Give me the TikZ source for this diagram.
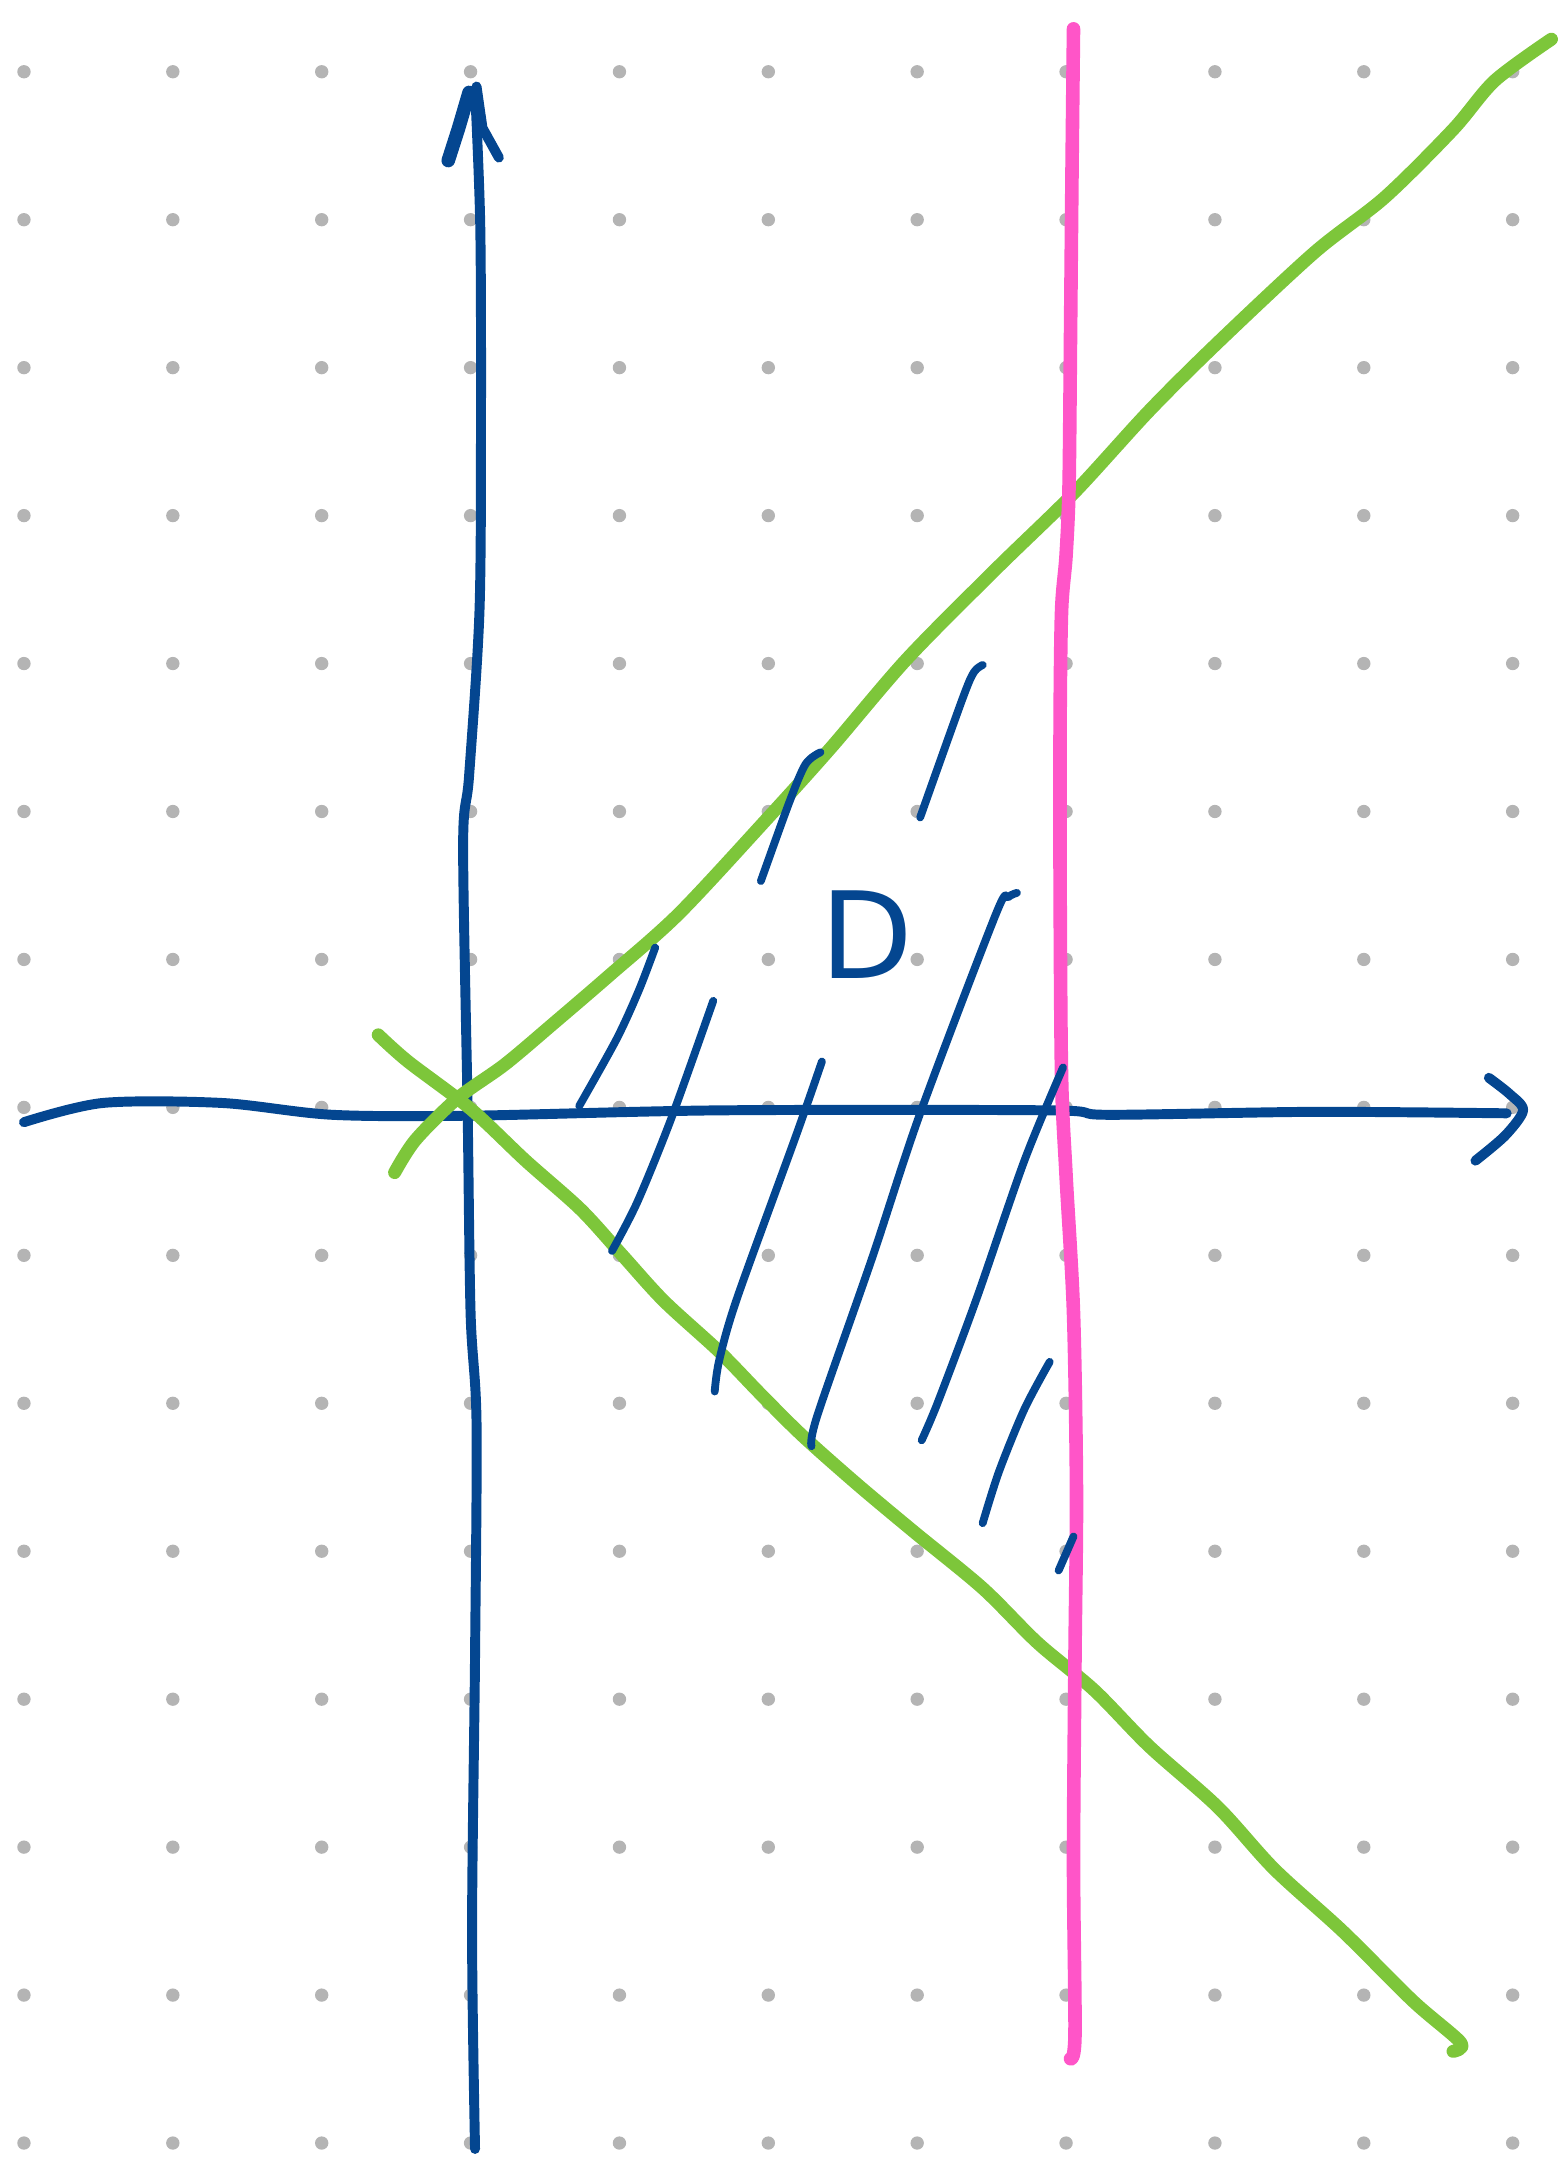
\documentclass[tikz,border=0pt]{standalone}
\usepackage{fontspec}
\usepackage{tikz}
\newfontfamily\labelfont{DejaVu Sans}
\definecolor{inkblue}{HTML}{044690}
\definecolor{inkgreen}{HTML}{7DC63A}
\definecolor{inkpink}{HTML}{FF55C8}
\definecolor{dotgray}{HTML}{B4B4B4}
\tikzset{
  griddot/.style={fill=dotgray},
  axisline/.style={
    draw=inkblue,
    line width=1.9pt,
    line cap=round,
    line join=round
  },
  boundline/.style={
    draw=inkgreen,
    line width=2.5pt,
    line cap=round,
    line join=round
  },
  limitline/.style={
    draw=inkpink,
    line width=2.6pt,
    line cap=round,
    line join=round
  },
  hatchline/.style={
    draw=inkblue,
    line width=1.5pt,
    line cap=round,
    line join=round
  },
  regionlabel/.style={
    text=inkblue,
    font=\labelfont\fontsize{23}{23}\selectfont,
    inner sep=0pt
  }
}

\begin{document}
\begin{tikzpicture}[x=1cm, y=0.9938cm]
    \useasboundingbox (-3.161,-7.162) rectangle (7.298,7.485);

    % dot paper
    \foreach \x in {-3,...,7}
      \foreach \y in {-7,...,7}
        \fill[griddot] (\x,\y) circle (0.045);

    % axes
    \draw[axisline] plot[smooth] coordinates {(0.03,-7.04) (0.01,-5.57) (0.03,-3.71) (0.04,-2.13) (0,-1.39) (-0.02,0) (-0.05,1.78) (-0.01,2.24) (0.06,3.36) (0.07,4.66) (0.065,5.96) (0.03,6.88)};
    \draw[axisline, line width=2.6pt] (-0.15,6.4) -- (-0.08,6.62) -- (-0.01,6.86);
    \draw[axisline] (0.04,6.9) -- (0.08,6.62) -- (0.19,6.42);
    \draw[axisline] plot[smooth] coordinates {(-3.0,-0.10) (-2.47,0.03) (-1.67,0.03) (-0.93,-0.05) (0,-0.056) (1.67,-0.02) (3.9,-0.02) (4.28,-0.05) (5.67,-0.03) (6.96,-0.04)};
    \draw[axisline] plot[smooth] coordinates {(6.84,0.2) (6.98,0.09) (7.07,-0.02) (6.95,-0.19) (6.75,-0.36)};

    % boundary lines
    \draw[boundline] plot[smooth] coordinates {(-0.51,-0.44) (-0.37,-0.22) (-0.09,0.06) (0.23,0.29) (0.56,0.57) (0.93,0.89) (1.4,1.31) (2.0,1.96) (2.42,2.43) (2.93,3.03) (3.53,3.64) (4.05,4.15) (4.56,4.71) (5.02,5.17) (5.67,5.78) (6.14,6.15) (6.6,6.61) (6.88,6.94) (7.26,7.22)};
    \draw[boundline] plot[smooth] coordinates {(-0.62,0.49) (-0.42,0.31) (0,-0.01) (0.37,-0.36) (0.74,-0.69) (1.02,-1.0) (1.30,-1.31) (1.67,-1.65) (1.95,-1.94) (2.23,-2.22) (2.6,-2.55) (2.98,-2.87) (3.44,-3.25) (3.81,-3.62) (4.19,-3.94) (4.56,-4.32) (5.02,-4.73) (5.4,-5.15) (5.86,-5.57) (6.33,-6.04) (6.65,-6.32) (6.6,-6.38)};
    \draw[limitline] plot[smooth] coordinates {(4.05,7.29) (4.04,6.33) (4.03,5.22) (4.02,4.2) (4.0,3.73) (3.97,3.36) (3.96,2.61) (3.96,1.5) (3.97,0.2) (4.0,-0.46) (4.05,-1.39) (4.07,-2.6) (4.06,-3.71) (4.05,-5.1) (4.06,-6.27) (4.03,-6.43)};

    % hatching
    \draw[hatchline] plot[smooth] coordinates {(0.73,0.01) (0.98,0.46) (1.13,0.79) (1.24,1.08)};
    \draw[hatchline] plot[smooth] coordinates {(1.95,1.53) (2.14,2.06) (2.25,2.32) (2.35,2.4)};
    \draw[hatchline] plot[smooth] coordinates {(3.02,1.96) (3.3,2.75) (3.38,2.94) (3.44,2.99)};
    \draw[hatchline] plot[smooth] coordinates {(0.95,-0.97) (1.12,-0.64) (1.35,-0.07) (1.63,0.72)};
    \draw[hatchline] plot[smooth] coordinates {(1.64,-1.92) (1.67,-1.71) (1.79,-1.29) (2.19,-0.18) (2.36,0.31)};
    \draw[hatchline] plot[smooth] coordinates {(2.29,-2.29) (2.33,-2.08) (2.7,-1.01) (3.02,-0.04) (3.53,1.31) (3.61,1.42) (3.67,1.45)};
    \draw[hatchline] plot[smooth] coordinates {(3.03,-2.25) (3.14,-1.99) (3.4,-1.29) (3.72,-0.36) (3.98,0.27)};
    \draw[hatchline] plot[smooth] coordinates {(3.44,-2.81) (3.55,-2.46) (3.72,-2.04) (3.89,-1.72)};
    \draw[hatchline] (3.95,-3.13) -- (4.05,-2.9);

    % region label
    \node[regionlabel] (regionD) at (2.66,1.17) {D};
\end{tikzpicture}
\end{document}
